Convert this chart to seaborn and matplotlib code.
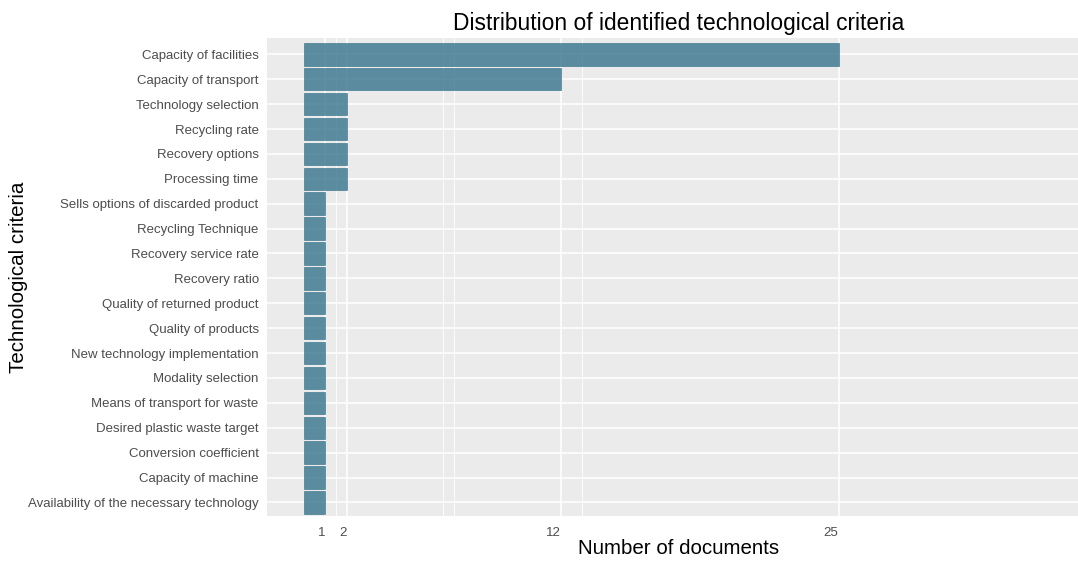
import matplotlib
matplotlib.use("Agg")
import matplotlib.pyplot as plt
import seaborn as sns
import pandas as pd

# Criteria, top to bottom as shown
criteria = [
    "Capacity of facilities",
    "Capacity of transport",
    "Technology selection",
    "Recycling rate",
    "Recovery options",
    "Processing time",
    "Sells options of discarded product",
    "Recycling Technique",
    "Recovery service rate",
    "Recovery ratio",
    "Quality of returned product",
    "Quality of products",
    "New technology implementation",
    "Modality selection",
    "Means of transport for waste",
    "Desired plastic waste target",
    "Conversion coefficient",
    "Capacity of machine",
    "Availability of the necessary technology",
]
documents = [25, 12, 2, 2, 2, 2, 1, 1, 1, 1, 1, 1, 1, 1, 1, 1, 1, 1, 1]

x_breaks = [1, 2, 12, 25]
x_minor = [1.5, 6.5, 7, 13]

df = pd.DataFrame({"criterion": criteria, "documents": documents})

sns.set_theme(style="darkgrid", rc={
    "axes.facecolor": "#EBEBEB",
    "grid.color": "white",
    "axes.edgecolor": "#EBEBEB",
})
plt.rcParams["font.family"] = ["Liberation Sans", "DejaVu Sans"]

fig = plt.figure(figsize=(10.78, 5.61), dpi=100)
ax = fig.add_axes([0.2477, 0.080, 0.7523, 0.852])

sns.barplot(data=df, x="documents", y="criterion", order=criteria,
            color="#31708a", alpha=0.78, width=0.9,
            edgecolor="#2c6c85", linewidth=0.5, saturation=1, ax=ax)

ax.set_xlim(-1.73, 36.2)
ax.set_ylim(len(criteria) - 1 + 0.55, -0.65)

ax.set_xticks(x_breaks)
ax.set_xticks(x_minor, minor=True)
ax.set_xticklabels([str(b) for b in x_breaks], ha="right")
ax.grid(True, which="major", color="white", linewidth=1.1)
ax.grid(True, which="minor", axis="x", color="white", linewidth=0.6)
ax.set_axisbelow(True)

ax.tick_params(axis="both", which="major", length=4, width=0.8,
               color="#333333", labelcolor="#4D4D4D", labelsize=9.5, pad=2)
ax.tick_params(axis="x", which="major", pad=4)
ax.tick_params(axis="both", which="minor", length=0)
for s in ax.spines.values():
    s.set_visible(False)

ax.set_title("Distribution of identified technological criteria",
             fontsize=16.4, color="black", pad=6, x=0.507)
ax.set_xlabel("Number of documents", fontsize=14.8, color="black", labelpad=1)
ax.xaxis.set_label_coords(0.507, -0.048)
ax.set_ylabel("Technological criteria", fontsize=14.8, color="black")
ax.yaxis.set_label_coords(-0.295, 0.5)

fig.savefig("out.png", dpi=100)
